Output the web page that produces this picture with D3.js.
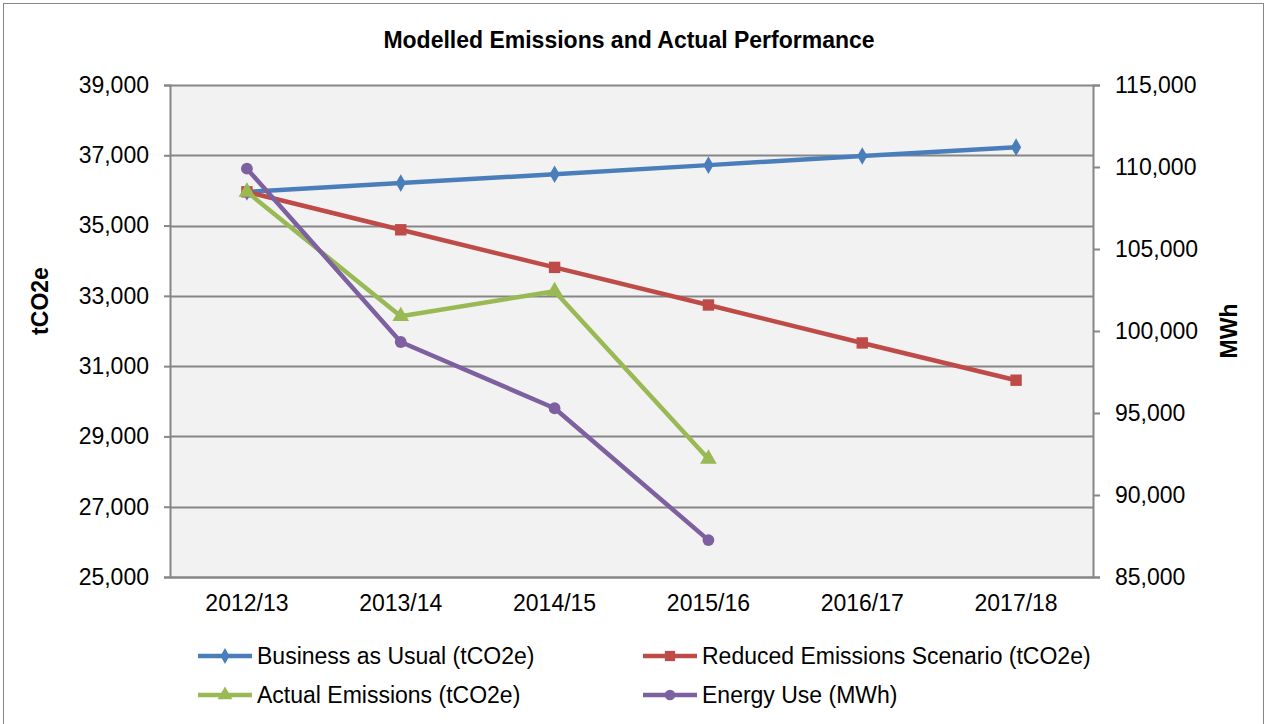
<!DOCTYPE html>
<html>
<head>
<meta charset="utf-8">
<script src="https://cdn.jsdelivr.net/npm/d3@7"></script>
<style>
  body { margin: 0; background: #fff; font-family: Arial, "Liberation Sans", sans-serif; }
  svg text { fill: #000; }
</style>
</head>
<body>
<script>
let years = ["2012/13", "2013/14", "2014/15", "2015/16", "2016/17", "2017/18"];
let businessAsUsual = [35960, 36210, 36460, 36720, 36980, 37230];
let reducedScenario = [35960, 34880, 33810, 32740, 31660, 30600];
let actualEmissions = [35960, 32420, 33130, 28360];
let energyUse = [109900, 99330, 95290, 87250];
let leftTicks = [25000, 27000, 29000, 31000, 33000, 35000, 37000, 39000];
let rightTicks = [85000, 90000, 95000, 100000, 105000, 110000, 115000];

let W = 1267, H = 724;
let margin = {top: 85, right: 174, bottom: 147, left: 170}
    , width = W - margin.left - margin.right
    , height = H - margin.top - margin.bottom;
let fontSize = "23px";

let svg = d3.select("body").append("svg")
    .attr("width", W)
    .attr("height", H);

// chart frame
svg.append("rect")
    .attr("x", 3.5).attr("y", 3.5)
    .attr("width", W - 7).attr("height", H + 10)
    .attr("fill", "#fff")
    .attr("stroke", "#868686");

svg.append("text")
    .attr("x", 629).attr("y", 48)
    .attr("text-anchor", "middle")
    .style("font-size", fontSize).style("font-weight", "bold")
    .text("Modelled Emissions and Actual Performance");

let g = svg.append("g")
    .attr("transform", "translate(" + margin.left + "," + margin.top + ")");

let x = d3.scaleBand().domain(years).range([0, width]);
let yL = d3.scaleLinear().domain([25000, 39000]).range([height, 0]);
let yR = d3.scaleLinear().domain([85000, 115000]).range([height, 0]);
let fmt = d3.format(",");

g.append("rect")
    .attr("width", width).attr("height", height)
    .attr("fill", "#f2f2f2");

g.selectAll(".grid")
    .data(leftTicks)
    .join("line")
    .attr("x1", 0).attr("x2", width)
    .attr("y1", d => Math.round(yL(d)) + 0.5).attr("y2", d => Math.round(yL(d)) + 0.5)
    .attr("stroke", "#868686").attr("stroke-width", 2);

let axisStyle = sel => {
    sel.select(".domain").attr("stroke", "#868686").attr("stroke-width", 2);
    sel.selectAll(".tick line").attr("stroke", "#868686").attr("stroke-width", 2);
    sel.selectAll("text").style("font-size", fontSize).attr("fill", "#000")
        .style("font-family", "Arial, 'Liberation Sans', sans-serif");
};

g.append("g")
    .call(d3.axisLeft(yL).tickValues(leftTicks).tickFormat(fmt).tickSize(6).tickPadding(15))
    .call(axisStyle);

g.append("g")
    .attr("transform", "translate(" + width + ",0)")
    .call(d3.axisRight(yR).tickValues(rightTicks).tickFormat(fmt).tickSize(7).tickPadding(15))
    .call(axisStyle);

g.append("g")
    .attr("transform", "translate(0," + height + ")")
    .call(d3.axisBottom(x).tickSize(0).tickPadding(18))
    .call(axisStyle);

svg.append("text")
    .attr("transform", "translate(48,301) rotate(-90)")
    .attr("text-anchor", "middle")
    .style("font-size", fontSize).style("font-weight", "bold")
    .text("tCO2e");

svg.append("text")
    .attr("transform", "translate(1237,331) rotate(-90)")
    .attr("text-anchor", "middle")
    .style("font-size", fontSize).style("font-weight", "bold")
    .text("MWh");

let series = [
    {name: "Business as Usual (tCO2e)", values: businessAsUsual, scale: yL, color: "#4a7ebb", symbol: d3.symbolDiamond, size: 90},
    {name: "Reduced Emissions Scenario (tCO2e)", values: reducedScenario, scale: yL, color: "#be4b48", symbol: d3.symbolSquare, size: 130},
    {name: "Actual Emissions (tCO2e)", values: actualEmissions, scale: yL, color: "#98b954", symbol: d3.symbolTriangle, size: 120},
    {name: "Energy Use (MWh)", values: energyUse, scale: yR, color: "#7d60a0", symbol: d3.symbolCircle, size: 110}
];

let cx = i => x(years[i]) + x.bandwidth() / 2;

series.forEach(s => {
    let line = d3.line()
        .x((d, i) => cx(i))
        .y(d => s.scale(d));
    g.append("path")
        .datum(s.values)
        .attr("fill", "none")
        .attr("stroke", s.color)
        .attr("stroke-width", 4.5)
        .attr("stroke-linejoin", "round")
        .attr("d", line);
    g.selectAll(null)
        .data(s.values)
        .join("path")
        .attr("transform", (d, i) => "translate(" + cx(i) + "," + s.scale(d) + ")")
        .attr("d", d3.symbol().type(s.symbol).size(s.size))
        .attr("fill", s.color);
});

// legend
let legendPos = [[198, 656], [643, 656], [198, 695], [643, 695]];
series.forEach((s, i) => {
    let lg = svg.append("g")
        .attr("transform", "translate(" + legendPos[i][0] + "," + legendPos[i][1] + ")");
    lg.append("line")
        .attr("x1", 0).attr("x2", 54)
        .attr("stroke", s.color).attr("stroke-width", 4.5);
    lg.append("path")
        .attr("transform", "translate(27,0)")
        .attr("d", d3.symbol().type(s.symbol).size(s.size * 0.8))
        .attr("fill", s.color);
    lg.append("text")
        .attr("x", 59).attr("dy", "0.35em")
        .style("font-size", fontSize)
        .text(s.name);
});
</script>
</body>
</html>
